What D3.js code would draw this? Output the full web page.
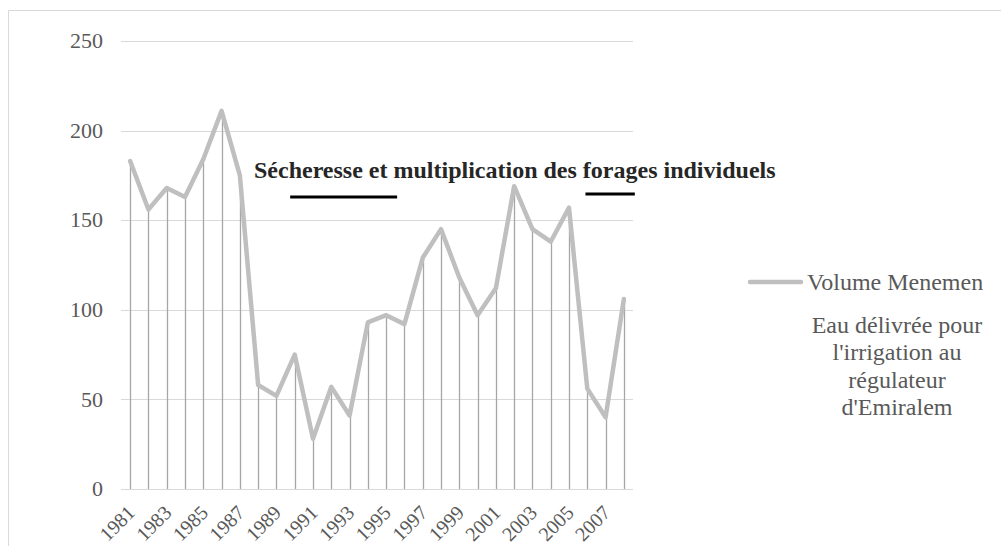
<!DOCTYPE html>
<html><head><meta charset="utf-8">
<script src="https://cdn.jsdelivr.net/npm/d3@7"></script>
<style>html,body{margin:0;padding:0;background:#fff;}svg{display:block;}
svg text{font-family:"Liberation Serif","Times New Roman",Times,serif;}</style>
</head><body>
<svg id="chart" width="1001" height="546"></svg>
<script>
const years = d3.range(1981, 2009).map(String);
const volumes = [183,156,168,163,184,211,175,58,52,75,28,57,41,93,97,92,129,145,118,97,112,169,145,138,157,56,40,106];
const yTicks = [0,50,100,150,200,250];
const xTickLabels = years.filter((d,i)=>i%2===0);
const seriesName = "Volume Menemen";
const legendNote = ["Eau délivrée pour","l'irrigation au","régulateur","d'Emiralem"];
const annotationText = "Sécheresse et multiplication des forages individuels";
const droughtBars = [[1989.75,1995.6],[2005.9,2008.6]];

const svg = d3.select("#chart");
const pLeft=121, pRight=633, pTop=41, pBottom=489;

// outer border (top + left)
svg.append("path").attr("d","M8.5,546V10.5H1001").attr("fill","none").attr("stroke","#d9d9d9").attr("stroke-width",1);

const x = d3.scaleBand().domain(years).range([pLeft,pRight]);
const y = d3.scaleLinear().domain([0,250]).range([pBottom,pTop]);
const xc = d => x(d)+x.bandwidth()/2;

// gridlines
svg.append("g").selectAll("line").data(yTicks).join("line")
  .attr("x1",pLeft).attr("x2",pRight)
  .attr("y1",d=>Math.round(y(d))+0.5).attr("y2",d=>Math.round(y(d))+0.5)
  .attr("stroke","#d9d9d9").attr("stroke-width",1.2);

// y axis labels
const yAxis = d3.axisLeft(y).tickValues(yTicks).tickSize(0).tickPadding(0);
const gy = svg.append("g").attr("transform",`translate(${pLeft-18},0)`).call(yAxis)
  .attr("font-family",null).attr("font-size",null);
gy.select(".domain").remove();
gy.selectAll("text").style("font-size","22px").attr("fill","#595959").attr("dy","0.3em");

// drop lines
svg.append("g").selectAll("line").data(volumes).join("line")
  .attr("x1",(d,i)=>Math.round(xc(years[i]))+0.5).attr("x2",(d,i)=>Math.round(xc(years[i]))+0.5)
  .attr("y1",pBottom).attr("y2",d=>y(d))
  .attr("stroke","#a6a6a6").attr("stroke-width",1.3);

// series line
const line = d3.line().x((d,i)=>xc(years[i])).y(d=>y(d));
svg.append("path").datum(volumes).attr("d",line).attr("fill","none")
  .attr("stroke","#bfbfbf").attr("stroke-width",4.5).attr("stroke-linejoin","round").attr("stroke-linecap","round");

// x axis labels
const xAxis = d3.axisBottom(x).tickValues(xTickLabels).tickSize(0).tickPadding(0);
const gx = svg.append("g").attr("transform",`translate(0,${pBottom})`).call(xAxis)
  .attr("font-family",null).attr("font-size",null);
gx.select(".domain").remove();
gx.selectAll("text").style("font-size","20px").attr("fill","#595959")
  .attr("text-anchor","end").attr("dy",0).attr("transform","translate(6,25) rotate(-45)");

// annotation
svg.append("text").attr("x",254).attr("y",178).style("font-weight","bold")
  .style("font-size","24px").attr("fill","#262626").text(annotationText);
const xYear = d3.scaleLinear().domain([1981,2008]).range([xc("1981"),xc("2008")]);
svg.append("g").selectAll("line").data(droughtBars).join("line")
  .attr("x1",d=>xYear(d[0])).attr("x2",d=>xYear(d[1]))
  .attr("y1",(d,i)=>i===0?197:194).attr("y2",(d,i)=>i===0?197:194)
  .attr("stroke","#000").attr("stroke-width",3.2);

// legend
svg.append("line").attr("x1",750).attr("x2",801).attr("y1",282).attr("y2",282)
  .attr("stroke","#bfbfbf").attr("stroke-width",4.5).attr("stroke-linecap","round");
svg.append("text").attr("x",807).attr("y",290).style("font-size","24px")
  .attr("fill","#595959").text(seriesName);
svg.append("g").selectAll("text").data(legendNote).join("text")
  .attr("x",897).attr("y",(d,i)=>333+i*27.3).attr("text-anchor","middle")
  .style("font-size","24px").attr("fill","#595959").text(d=>d);
</script>
</body></html>
